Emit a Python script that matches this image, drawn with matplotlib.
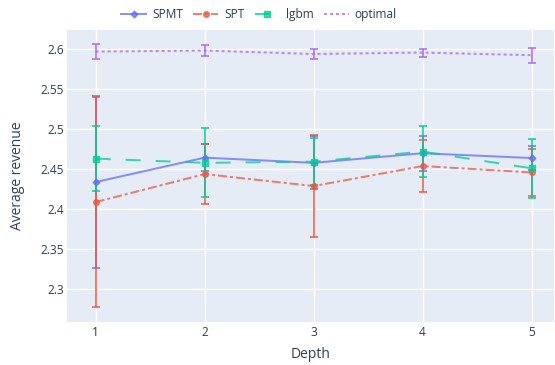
import matplotlib
matplotlib.use("Agg")
import matplotlib.pyplot as plt
import numpy as np

depth = [1, 2, 3, 4, 5]

spmt = [2.434, 2.4645, 2.458, 2.470, 2.464]
spmt_err = [0.108, 0.017, 0.033, 0.022, 0.0155]

spt = [2.409, 2.444, 2.429, 2.454, 2.446]
spt_err = [0.131, 0.037, 0.064, 0.032, 0.029]

lgbm = [2.4633, 2.458, 2.4595, 2.472, 2.4512]
lgbm_err = [0.041, 0.043, 0.029, 0.032, 0.037]

optimal = [2.597, 2.5983, 2.594, 2.5958, 2.5925]
optimal_err = [0.009, 0.0067, 0.006, 0.005, 0.0095]

series = [
    ("SPMT", spmt, spmt_err, "#636efa", "D", (None, None)),
    ("SPT", spt, spt_err, "#EF553B", "o", (0, (4.5, 1.5, 1.5, 1.5))),
    ("lgbm", lgbm, lgbm_err, "#00cc96", "s", (0, (7.5, 7.5))),
    ("optimal", optimal, optimal_err, "#ab63fa", "", (0, (1.5, 1.5))),
]

plt.rcParams['font.family'] = ['Open Sans', 'DejaVu Sans']
textc = "#2a3f5f"

fig = plt.figure(figsize=(5.55, 3.65), dpi=100)
W, H = 555, 365
ax = fig.add_axes([67 / W, (H - 321.7) / H, (554 - 67) / W, (321.7 - 30) / H])
ax.set_facecolor("#E5ECF6")
for s in ax.spines.values():
    s.set_visible(False)
ax.grid(True, color="white", linewidth=1.0)
ax.set_axisbelow(True)

handles = []
for name, vals, err, col, mk, ls in series:
    ms = 4.2 if mk == "s" else (3.4 if mk == "D" else 4.0)
    cont = ax.errorbar(depth, vals, yerr=err, color=col, alpha=0.75,
                       linewidth=1.44, elinewidth=1.44, capsize=3, capthick=1.44,
                       marker=mk if mk else None, markersize=ms, zorder=3)
    line = cont.lines[0]
    if ls[0] is not None:
        line.set_linestyle(ls)
    handles.append(line)

ax.set_xlim(0.737, 5.206)
ax.set_ylim(2.2595, 2.624)
ax.set_xticks(depth)
ax.set_yticks([2.3, 2.35, 2.4, 2.45, 2.5, 2.55, 2.6])
ax.set_yticklabels(["2.3", "2.35", "2.4", "2.45", "2.5", "2.55", "2.6"])
ax.tick_params(axis="x", length=0, labelsize=8.6, colors=textc, pad=3)
ax.tick_params(axis="y", length=0, labelsize=8.6, colors=textc, pad=2)
ax.set_xlabel("Depth", fontsize=10, color=textc, labelpad=5.5)
ax.set_ylabel("Average revenue", fontsize=10, color=textc, labelpad=11)

leg = ax.legend(handles, [s[0] for s in series], loc="center left",
                bbox_to_anchor=(121 / W, (H - 14.5) / H), bbox_transform=fig.transFigure,
                ncol=4, frameon=False, fontsize=8.6, handlelength=2.1,
                handletextpad=0.5, columnspacing=0.85, borderaxespad=0, borderpad=0)
for t in leg.get_texts():
    t.set_color(textc)

fig.savefig("out.png", dpi=100)
